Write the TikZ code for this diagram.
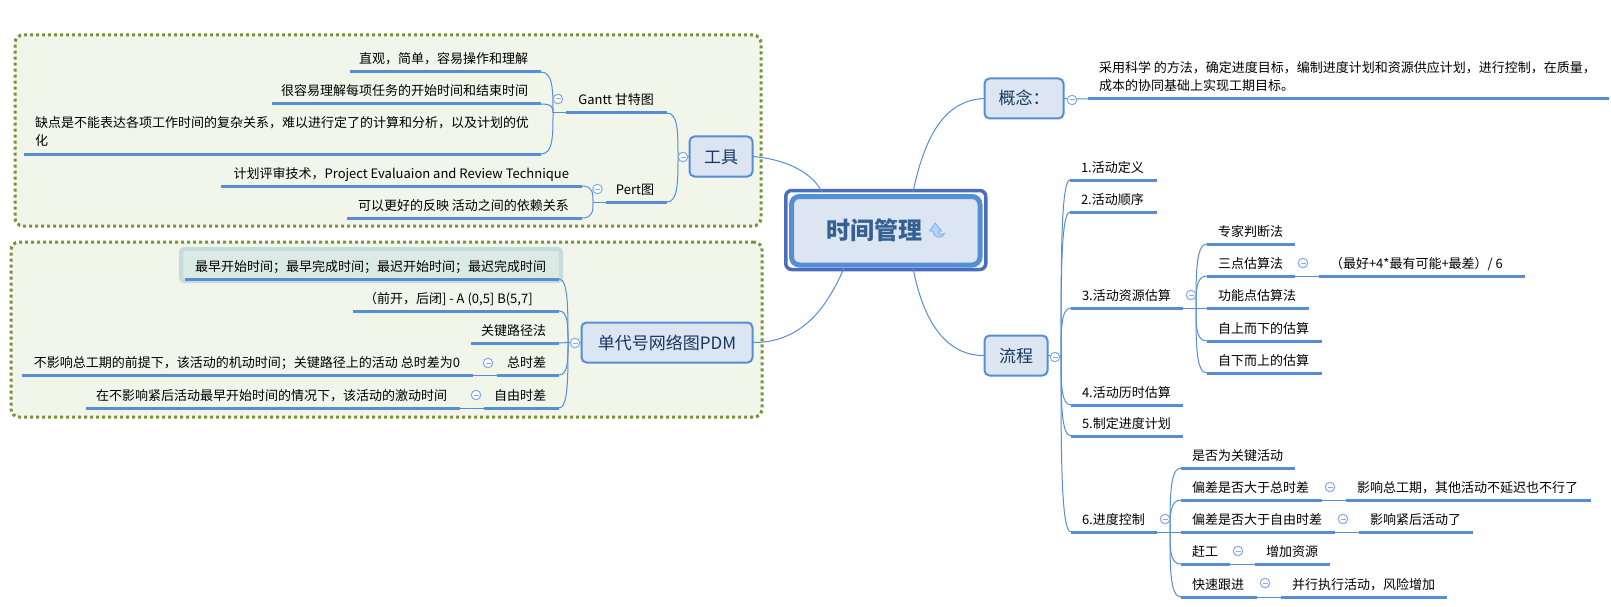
\documentclass[tikz,border=0pt]{standalone}
\usepackage{fontspec}
\setmainfont{Noto Sans CJK SC}
\usetikzlibrary{calc}
\definecolor{linkc}{HTML}{558ED5}
\definecolor{grpf}{HTML}{F2F5EA}
\definecolor{grpd}{HTML}{77933C}
\definecolor{topf}{HTML}{DCE6F2}
\definecolor{topt}{HTML}{17375E}
\definecolor{centt}{HTML}{366092}
\definecolor{centd}{HTML}{4A6EBD}
\definecolor{collc}{HTML}{85A9EA}
\definecolor{hild}{HTML}{C6DBDE}
\definecolor{hilf}{HTML}{DCEAE6}
\definecolor{iconf}{HTML}{B4D2FA}
\tikzset{
  link/.style={draw=linkc,line width=1pt},
  ul/.style={draw=linkc,line width=3pt},
  grp/.style={draw=grpd,fill=grpf,line width=3pt,dash pattern=on 3pt off 3pt,rounded corners=8pt,inner sep=0pt},
  hilite/.style={draw=hild,fill=hilf,line width=4pt,rounded corners=3pt,inner sep=0pt},
  item/.style={inner ysep=0pt,outer sep=0pt,text height=17pt,text depth=8pt,font=\fontsize{13pt}{18pt}\selectfont,text=black},
  topic/.style={draw=linkc,fill=topf,line width=2pt,rounded corners=5pt,inner sep=0pt,outer sep=0pt,text=topt,font=\fontsize{17pt}{20pt}\selectfont,text height=14.5pt,text depth=1.5pt},
  coll/.style={circle,draw=collc,fill=white,line width=1pt,minimum size=9.5pt,inner sep=0pt},
  minusbar/.style={draw=collc,line width=1pt},
}
\newcommand{\leafL}[5]{%
  \node[item,inner xsep=0pt,anchor=south west,minimum width=#3pt-#2pt] (#1) at (#2,#4) {\makebox[\dimexpr#3pt-#2pt\relax][r]{#5\hspace*{13pt}}};
  \draw[ul] (#1.south west) -- (#1.south east);}
\newcommand{\leafR}[5]{%
  \node[item,inner xsep=0pt,anchor=south west,minimum width=#3pt-#2pt] (#1) at (#2,#4) {\makebox[\dimexpr#3pt-#2pt\relax][l]{\hspace*{11pt}#5}};
  \draw[ul] (#1.south west) -- (#1.south east);}
\newcommand{\leafT}[5]{%
  \node[item,text height=35pt,inner xsep=0pt,anchor=south west,minimum width=#3pt-#2pt] (#1) at (#2,#4) {\makebox[\dimexpr#3pt-#2pt\relax][l]{\hspace*{11pt}\parbox[b]{\dimexpr#3pt-#2pt-11pt\relax}{\raggedright #5}}};
  \draw[ul] (#1.south west) -- (#1.south east);}
\newcommand{\coll}[3]{%
  \node[coll] (#1) at (#2,#3) {};
  \draw[minusbar] ([xshift=-2.5pt]#1.center) -- ([xshift=2.5pt]#1.center);}
\newcommand{\br}[2]{\draw[link] (#1) .. controls ($(#1)!0.55!(#1 |- #2)$) and (#1 |- #2) .. (#2);}
\begin{document}
\begin{tikzpicture}[x=1pt,y=-1pt]
\useasboundingbox (0,0) rectangle (1611,607);
% groups
\node[grp,minimum width=746pt,minimum height=191pt] (g1) at (388,130.5) {};
\node[grp,minimum width=751pt,minimum height=175pt] (g2) at (386.5,329.5) {};
\node[hilite,minimum width=380pt,minimum height=32pt] (hl) at (371,265) {};
% central
\node[draw=centd,line width=3.5pt,rounded corners=6pt,minimum width=200pt,minimum height=79pt,inner sep=0pt,outer sep=0pt] (cout) at (885.75,230) {};
\node[draw=linkc,fill=topf,line width=5pt,rounded corners=8pt,minimum width=188.5pt,minimum height=68.5pt,inner sep=0pt,outer sep=0pt,text=centt,text height=20pt,text depth=2pt,font=\fontsize{24pt}{28pt}\selectfont\bfseries] (central) at (885.75,230.75) {时间管理\hspace*{22.5pt}};
\path[fill=iconf,draw=collc,line width=0.8pt] (929.5,231) -- (935.2,223) -- (941.5,231) -- (938.5,231) .. controls (938.5,234) and (941,235.5) .. (944.5,233.5) .. controls (943,238.5) and (933.5,239.5) .. (933,231) -- cycle;
% topics
\node[topic,minimum width=63pt,minimum height=40pt] (tools) at (721,156.5) {工具};
\node[topic,minimum width=171pt,minimum height=40pt] (pdm) at (667,342.5) {单代号网络图PDM};
\node[topic,minimum width=79pt,minimum height=40pt] (concept) at (1024,98.5) {概念：};
\node[topic,minimum width=63pt,minimum height=40pt] (flow) at (1016,355.5) {流程};
% central links
\coordinate (cnw) at (822,192);
\coordinate (cne) at (913,192);
\coordinate (csw) at (844,268);
\coordinate (cse) at (913,268);
\draw[link] (tools.east) .. controls (785,159) and (812,172) .. (cnw);
\draw[link] (concept.west) .. controls (945,100) and (925,135) .. (cne);
\draw[link] (pdm.east) .. controls (800,343) and (826,310) .. (csw);
\draw[link] (flow.west) .. controls (948,356) and (924,325) .. (cse);
% left: tools
\leafL{ga}{350}{541}{72}{直观，简单，容易操作和理解}
\leafL{gb}{272}{541}{104}{很容易理解每项任务的开始时间和结束时间}
\leafT{gc}{24}{541}{154}{缺点是不能表达各项工作时间的复杂关系，难以进行定了的计算和分析，以及计划的优\\化}
\leafL{gantt}{566}{667}{113}{Gantt 甘特图}
\leafL{pa}{221}{582}{186}{计划评审技术，Project Evaluaion and Review Technique}
\leafL{pb}{347}{582}{218}{可以更好的反映 活动之间的依赖关系}
\leafL{pert}{606}{667}{202}{Pert图}
\coordinate (hg) at (553,113);
\coordinate (hp) at (593,202);
\coordinate (ht) at (678,156.5);
\br{hg}{ga.south east}\br{hg}{gb.south east}\br{hg}{gc.south east}
\draw[link] (hg) -- (gantt.south west);
\br{hp}{pa.south east}\br{hp}{pb.south east}
\draw[link] (hp) -- (pert.south west);
\br{ht}{gantt.south east}\br{ht}{pert.south east}
\draw[link] (ht) -- (tools.west);
% left: pdm
\leafL{da}{185}{559}{279}{最早开始时间；最早完成时间；最迟开始时间；最迟完成时间}
\leafR{db}{353}{559}{311}{（前开，后闭] - A (0,5] B(5,7]}
\leafL{dc}{471}{559}{343}{关键路径法}
\leafL{dd}{497}{559}{375}{总时差}
\leafL{ddx}{22}{473}{375}{不影响总工期的前提下，该活动的机动时间；关键路径上的活动 总时差为0}
\leafL{de}{484}{559}{408}{自由时差}
\leafL{dex}{86}{460}{408}{在不影响紧后活动最早开始时间的情况下，该活动的激动时间}
\coordinate (hd) at (568,342.5);
\br{hd}{da.south east}\br{hd}{db.south east}\br{hd}{dd.south east}\br{hd}{de.south east}
\draw[link] (hd) -- (dc.south east);
\draw[link] (hd) -- (pdm.west);
\draw[link] (dd.south west) -- (ddx.south east);
\draw[link] (de.south west) -- (dex.south east);
% right: concept
\leafT{ca}{1088}{1609}{99}{采用科学 的方法，确定进度目标，编制进度计划和资源供应计划，进行控制，在质量，\\成本的协同基础上实现工期目标。}
\draw[link] (concept.east) -- (ca.south west);
% right: flow
\leafR{fa}{1070}{1157}{180}{1.活动定义}
\leafR{fb}{1070}{1157}{212}{2.活动顺序}
\leafR{fc}{1071}{1183}{308}{3.活动资源估算}
\leafR{fd}{1071}{1183}{405}{4.活动历时估算}
\leafR{fe}{1071}{1183}{436}{5.制定进度计划}
\leafR{ff}{1071}{1157}{532}{6.进度控制}
\coordinate (hf) at (1061,356);
\br{hf}{fa.south west}\br{hf}{fb.south west}\br{hf}{fc.south west}\br{hf}{fd.south west}\br{hf}{fe.south west}\br{hf}{ff.south west}
\draw[link] (flow.east) -- (hf);
% 3 children
\leafR{ra}{1207}{1295}{244}{专家判断法}
\leafR{rb}{1207}{1295}{276}{三点估算法}
\leafR{rbx}{1319}{1525}{276}{（最好+4*最有可能+最差）/ 6}
\leafR{rc}{1207}{1309}{308}{功能点估算法}
\leafR{rd}{1207}{1322}{341}{自上而下的估算}
\leafR{re}{1207}{1322}{373}{自下而上的估算}
\coordinate (hr) at (1196,308);
\br{hr}{ra.south west}\br{hr}{rb.south west}\br{hr}{rd.south west}\br{hr}{re.south west}
\draw[link] (fc.south east) -- (rc.south west);
\draw[link] (rb.south east) -- (rbx.south west);
% 6 children
\leafR{sa}{1181}{1295}{468}{是否为关键活动}
\leafR{sb}{1181}{1322}{500}{偏差是否大于总时差}
\leafR{sbx}{1346}{1591}{500}{影响总工期，其他活动不延迟也不行了}
\leafR{sc}{1181}{1335}{532}{偏差是否大于自由时差}
\leafR{scx}{1359}{1473}{532}{影响紧后活动了}
\leafR{sd}{1181}{1230}{564}{赶工}
\leafR{sdx}{1255}{1330}{564}{增加资源}
\leafR{se}{1181}{1257}{597}{快速跟进}
\leafR{sex}{1281}{1447}{597}{并行执行活动，风险增加}
\coordinate (hs) at (1170,532);
\br{hs}{sa.south west}\br{hs}{sb.south west}\br{hs}{sd.south west}\br{hs}{se.south west}
\draw[link] (ff.south east) -- (sc.south west);
\draw[link] (sb.south east) -- (sbx.south west);
\draw[link] (sc.south east) -- (scx.south west);
\draw[link] (sd.south east) -- (sdx.south west);
\draw[link] (se.south east) -- (sex.south west);
% collapse marks
\coll{c1}{558}{99}
\coll{c2}{597.5}{189}
\coll{c3}{683}{157}
\coll{c4}{575}{343}
\coll{c5}{488}{363}
\coll{c6}{476}{395}
\coll{c7}{1072}{100}
\coll{c8}{1055}{357}
\coll{c9}{1191}{295}
\coll{c10}{1303}{263}
\coll{c11}{1165}{519}
\coll{c12}{1330}{487}
\coll{c13}{1343}{519}
\coll{c14}{1238}{551}
\coll{c15}{1265}{583}
\end{tikzpicture}
\end{document}
